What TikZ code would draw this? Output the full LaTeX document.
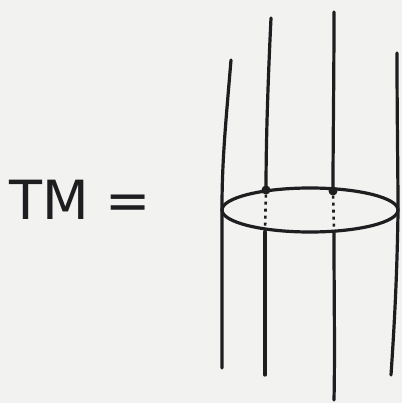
\documentclass[tikz,border=0pt]{standalone}
\usepackage{fontspec}
\setmainfont{DejaVu Sans}
\definecolor{paper}{RGB}{242,242,240}
\definecolor{ink}{RGB}{30,30,32}
\tikzset{
  stroke/.style={draw=ink, line width=3.2pt, line cap=round, line join=round},
  hidden/.style={draw=ink, line width=2.6pt, dash pattern=on 3pt off 4pt},
  pt/.style={circle, fill=ink, inner sep=0pt, minimum size=9pt}
}
\begin{document}
\begin{tikzpicture}[x=1pt,y=-1pt]
  \fill[paper] (0,0) rectangle (402,403);
  \useasboundingbox (0,0) rectangle (402,403);
  % label
  \node[text=ink, font=\fontsize{54}{60}\selectfont, anchor=base west, inner sep=0pt] (lbl) at (9,219) {TM =};
  % fibre end points
  \coordinate (a1) at (231,60);  \coordinate (a2) at (222,207); \coordinate (a3) at (222,368);
  \coordinate (b1) at (271,18);  \coordinate (b3) at (265,232); \coordinate (b4) at (265,375);
  \coordinate (c1) at (334,12);  \coordinate (c3) at (334,232); \coordinate (c4) at (334,400);
  \coordinate (d1) at (397,53);  \coordinate (d2) at (398,212); \coordinate (d4) at (391,375);
  \node[pt] (p) at (266,190) {};
  \node[pt] (q) at (333,191) {};
  % base ellipse
  \draw[stroke] (310,210) ellipse [x radius=88, y radius=22];
  % fibres
  \draw[stroke] (a1) .. controls (226,120) and (222,160) .. (a2) -- (a3);
  \draw[stroke] (b1) .. controls (268,80) and (266,140) .. (p.center);
  \draw[hidden] (p) -- (b3);
  \draw[stroke] (b3) -- (b4);
  \draw[stroke] (c1) .. controls (334,80) and (333,140) .. (q.center);
  \draw[hidden] (q) -- (c3);
  \draw[stroke] (c3) .. controls (334,300) and (335,350) .. (c4);
  \draw[stroke] (d1) .. controls (397,120) and (398,170) .. (d2) .. controls (397,280) and (394,330) .. (d4);
\end{tikzpicture}
\end{document}
